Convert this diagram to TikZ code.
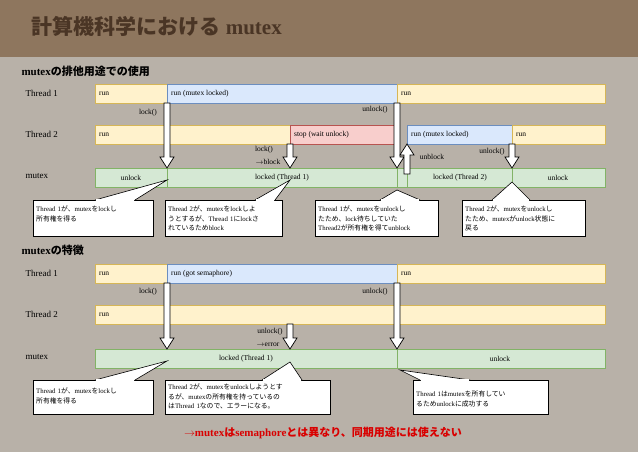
\documentclass[tikz,border=0pt]{standalone}
\usepackage{fontspec}
\setmainfont{Liberation Serif}
\newfontfamily\jp{Noto Sans CJK JP}
\newcommand{\J}[1]{{\jp #1}}
\definecolor{bg}{HTML}{B8B1A8}
\definecolor{yel}{HTML}{FFF2CC}\definecolor{yelb}{HTML}{D6B656}
\definecolor{blu}{HTML}{DAE8FC}\definecolor{blub}{HTML}{6C8EBF}
\definecolor{redf}{HTML}{F8CECC}\definecolor{redb}{HTML}{B85450}
\definecolor{grn}{HTML}{D5E8D4}\definecolor{grnb}{HTML}{82B366}
\definecolor{ttl}{HTML}{8E765E}
\definecolor{ttltext}{HTML}{4A3525}
\tikzset{
 bar/.style={font=\fontsize{7.5}{8}\selectfont,anchor=west,inner xsep=4pt},
 lbl/.style={font=\fontsize{9}{10}\selectfont,anchor=west},
 sm/.style={font=\fontsize{7.5}{8}\selectfont},
 call/.style={font=\fontsize{6.8}{9.5}\selectfont,align=left,anchor=north west,inner sep=3pt,text width=#1},
 harr/.style={draw=black,fill=white,line width=0.7pt}
}
\newcommand{\seg}[6]{\draw[fill=#5,draw=#6,line width=0.8pt] (#1,#3) rectangle (#2,#4);}
\newcommand{\harrdown}[3]{\draw[harr] (#1-3,#2)--(#1+3,#2)--(#1+3,#3-11)--(#1+7,#3-11)--(#1,#3)--(#1-7,#3-11)--(#1-3,#3-11)--cycle;}
\newcommand{\harrup}[3]{\draw[harr] (#1-3,#2)--(#1+3,#2)--(#1+3,#3+11)--(#1+7,#3+11)--(#1,#3)--(#1-7,#3+11)--(#1-3,#3+11)--cycle;}
\newcommand{\callout}[7]{%
 \draw[fill=white,line width=0.6pt] (#1,#3) rectangle (#2,#4);
 \draw[fill=white,line width=0.6pt] (#5,#3)--(#7)--(#6,#3);
 \fill[white] (#5+0.6,#3-0.8) rectangle (#6-0.6,#3+0.6);}
\begin{document}
\begin{tikzpicture}[x=1pt,y=-1pt]
\fill[bg] (0,0) rectangle (638,452);
\useasboundingbox (0,0) rectangle (638,452);
\fill[ttl] (0,0) rectangle (638,57);
\node[anchor=west,font=\bfseries\fontsize{21}{24}\selectfont,text=ttltext] (title) at (28,26) {\J{計算機科学における} mutex};
% ---- section 1
\node[anchor=west,font=\bfseries\fontsize{11}{12}\selectfont] (h1) at (18,71) {mutex\J{の排他用途での使用}};
\node[lbl] (t1) at (22,93) {Thread 1};
\node[lbl] (t2) at (22,134) {Thread 2};
\node[lbl] (m1) at (22,176) {mutex};
\seg{95}{167}{84}{103}{yel}{yelb}\seg{167}{397}{84}{103}{blu}{blub}\seg{397}{605}{84}{103}{yel}{yelb}
\node[bar] at (95,93.5) {run};\node[bar] at (167,93.5) {run (mutex locked)};\node[bar] at (397,93.5) {run};
\seg{95}{290}{125}{144}{yel}{yelb}\seg{290}{398}{125}{144}{redf}{redb}\seg{407}{512}{125}{144}{blu}{blub}\seg{512}{605}{125}{144}{yel}{yelb}
\node[bar] at (95,134.5) {run};\node[bar] at (290,134.5) {stop (wait unlock)};\node[bar] at (407,134.5) {run (mutex locked)};\node[bar] at (512,134.5) {run};
\seg{95}{167}{168}{187}{grn}{grnb}\seg{167}{397}{168}{187}{grn}{grnb}\seg{397}{407}{168}{187}{grn}{grnb}\seg{407}{512}{168}{187}{grn}{grnb}\seg{512}{605}{168}{187}{grn}{grnb}
\node[sm] at (131,177.5) {unlock};\node[sm] at (282,177.5) {locked (Thread 1)};\node[sm] at (460,177.5) {locked (Thread 2)};\node[sm] at (558,177.5) {unlock};
\node[sm] at (148,113) {lock()};\node[sm] at (375,110) {unlock()};
\node[sm] at (264,150) {lock()};\node[sm] at (268,162) {$\rightarrow$block};
\node[sm] at (432,157) {unblock};\node[sm] at (492,152) {unlock()};
\harrdown{167}{103}{168}\harrdown{397}{103}{168}\harrdown{290}{144}{168}\harrdown{512}{144}{168}\harrup{407}{174}{144}
\callout{33}{153}{200}{236}{95}{135}{167,180}
\node[call=114pt] at (33,203) {Thread 1\J{が、}mutex\J{を}lock\J{し}\\\J{所有権を得る}};
\callout{165}{282}{200}{236}{255}{275}{290,180}
\node[call=112pt] at (165,203) {Thread 2\J{が、}mutex\J{を}lock\J{しよ}\\\J{うとするが、}Thread 1\J{に}lock\J{さ}\\\J{れているため}block};
\callout{315}{438}{200}{236}{380}{420}{397,190}
\node[call=118pt] at (315,203) {Thread 1\J{が、}mutex\J{を}unlock\J{し}\\\J{たため、}lock\J{待ちしていた}\\Thread2\J{が所有権を得て}unblock};
\callout{462}{585}{200}{236}{492}{530}{512,182}
\node[call=118pt] at (462,203) {Thread 2\J{が、}mutex\J{を}unlock\J{し}\\\J{たため、}mutex\J{が}unlock\J{状態に}\\\J{戻る}};
% ---- section 2
\node[anchor=west,font=\bfseries\fontsize{11}{12}\selectfont] (h2) at (18,250) {mutex\J{の特徴}};
\node[lbl] (t1b) at (22,273) {Thread 1};
\node[lbl] (t2b) at (22,314) {Thread 2};
\node[lbl] (m2) at (22,357) {mutex};
\seg{95}{167}{264}{283}{yel}{yelb}\seg{167}{397}{264}{283}{blu}{blub}\seg{397}{605}{264}{283}{yel}{yelb}
\node[bar] at (95,273.5) {run};\node[bar] at (167,273.5) {run (got semaphore)};\node[bar] at (397,273.5) {run};
\seg{95}{605}{305}{324}{yel}{yelb}\node[bar] at (95,314.5) {run};
\seg{95}{397}{349}{368}{grn}{grnb}\seg{397}{605}{349}{368}{grn}{grnb}
\node[sm] at (246,358.5) {locked (Thread 1)};\node[sm] at (500,358.5) {unlock};
\node[sm] at (148,292) {lock()};\node[sm] at (375,292) {unlock()};
\node[sm] at (270,332) {unlock()};\node[sm] at (268,345) {$\rightarrow$error};
\harrdown{167}{283}{349}\harrdown{397}{283}{349}\harrdown{290}{324}{349}
\callout{33}{153}{380}{414}{95}{135}{167,361}
\node[call=114pt] at (33,385) {Thread 1\J{が、}mutex\J{を}lock\J{し}\\\J{所有権を得る}};
\callout{165}{330}{380}{414}{262}{302}{290,362}
\node[call=160pt] at (165,381) {Thread 2\J{が、}mutex\J{を}unlock\J{しようとす}\\\J{るが、}mutex\J{の所有権を持っているの}\\\J{は}Thread 1\J{なので、エラーになる。}};
\callout{413}{548}{380}{414}{420}{470}{400,370}
\node[call=130pt] at (413,388) {Thread 1\J{は}mutex\J{を所有してい}\\\J{るため}unlock\J{に成功する}};
\node[font=\bfseries\fontsize{11}{12}\selectfont,text=red!85!black] (concl) at (323,433) {$\rightarrow$mutex\J{は}semaphore\J{とは異なり、同期用途には使えない}};
\end{tikzpicture}
\end{document}
